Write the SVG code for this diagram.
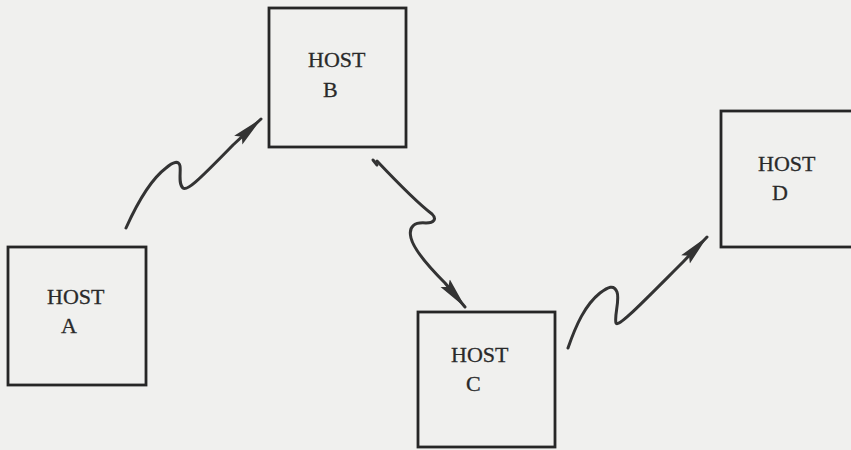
<svg xmlns="http://www.w3.org/2000/svg" width="851" height="450" viewBox="0 0 851 450">
  <style>
    .box { fill: none; stroke: #262626; stroke-width: 2.8; }
    .lbl { font-family: "Liberation Serif", "Times New Roman", serif; font-size: 22px; fill: #2a2a2a; stroke: #2a2a2a; stroke-width: 0.3; }
    .wire { fill: none; stroke: #333333; stroke-width: 3; stroke-linecap: round; stroke-linejoin: round; }
  </style>
  <defs>
    <marker id="head" viewBox="0 0 32 13" refX="31" refY="6.5" markerWidth="32" markerHeight="13" markerUnits="userSpaceOnUse" orient="auto">
      <path d="M0,0.5 L32,6.5 L0,12.5 L5,6.5 Z" fill="#333333"/>
    </marker>
  </defs>
  <rect width="851" height="450" fill="#f0f0ee"/>

  <g id="host-a">
    <rect class="box" x="8" y="247" width="138" height="138"/>
    <text class="lbl" x="47" y="304">HOST</text>
    <text class="lbl" x="61" y="333">A</text>
  </g>
  <g id="host-b">
    <rect class="box" x="269" y="8" width="137" height="139"/>
    <text class="lbl" x="308" y="67">HOST</text>
    <text class="lbl" x="323" y="97">B</text>
  </g>
  <g id="host-c">
    <rect class="box" x="418" y="312" width="137" height="135"/>
    <text class="lbl" x="451" y="362">HOST</text>
    <text class="lbl" x="466" y="391">C</text>
  </g>
  <g id="host-d">
    <rect class="box" x="721" y="111" width="150" height="136"/>
    <text class="lbl" x="758" y="171">HOST</text>
    <text class="lbl" x="772" y="200">D</text>
  </g>

  <g id="connectors">
    <path class="wire" marker-end="url(#head)" d="M126,228 C135,208 150,180 166,168 C173,162 179,160 180,166 C181,172 178,184 183,188 C187,191 196,183 233,145 L261,119"/>
    <path class="wire" marker-end="url(#head)" d="M377,161 C395,180 420,205 432,214 C437,219 434,223 426,223 C415,222 408,226 411,238 C414,250 430,268 445,283 L465,307"/>
    <path class="wire" d="M373,160 L377,165"/>
    <path class="wire" marker-end="url(#head)" d="M568,348 C576,325 585,305 600,293 C608,287 614,284 617,292 C620,300 614,316 616,323 C618,328 640,305 683,262 L707,237"/>
  </g>
</svg>
